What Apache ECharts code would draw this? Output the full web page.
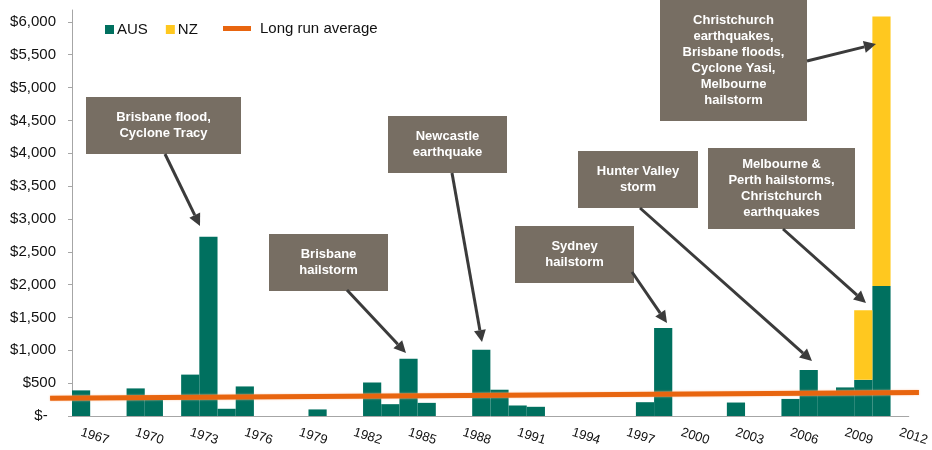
<!DOCTYPE html>
<html>
<head>
<meta charset="utf-8">
<script src="https://cdn.jsdelivr.net/npm/echarts@6/dist/echarts.min.js"></script>
<style>
  html, body { margin: 0; padding: 0; background: #fff; }
  #chart { width: 932px; height: 450px; }
</style>
</head>
<body>
<div id="chart"></div>
<script>
const years = []
for (let y = 1967; y <= 2012; y++) years.push(String(y))

// insured losses by year
const aus = [390, 0, 0, 420, 250, 0, 630, 2730, 110, 450,
  0, 0, 0, 100, 0, 0, 510, 180, 870, 200,
  0, 0, 1010, 400, 160, 140, 0, 0, 0, 0,
  0, 210, 1340, 0, 0, 0, 205, 0, 0, 260,
  700, 330, 435, 550, 1980, 0]
const nz = [0, 0, 0, 0, 0, 0, 0, 0, 0, 0,
  0, 0, 0, 0, 0, 0, 0, 0, 0, 0,
  0, 0, 0, 0, 0, 0, 0, 0, 0, 0,
  0, 0, 0, 0, 0, 0, 0, 0, 0, 0,
  0, 0, 0, 1060, 4100, 0]

// long run average trend, ends in year units
const avgYears = [1965.8, 2013.38]
const avgValues = [270, 356]

const yTicks = []
for (let v = 0; v <= 6000; v += 500) yTicks.push(v)

const FONT = '"Liberation Sans", Arial, sans-serif'
const AXIS_GREY = '#a6a6a6'
const GRID = { left: 72, right: 20, top: 10, bottom: 34 }
const Y_MAX = 6180

// trend line sits in its own grid so it can run past the plot edges
const pxPerYear = (932 - GRID.left - GRID.right) / years.length
const avgGrid = {
  left: GRID.left + (avgYears[0] - 1967) * pxPerYear,
  right: 932 - (GRID.left + (avgYears[1] - 1967) * pxPerYear),
  top: GRID.top, bottom: GRID.bottom
}

// callout boxes: [x, y, w, h], arrow [x1, y1, x2, y2]
const notes = [
  { text: 'Brisbane flood,\nCyclone Tracy', box: [86, 97, 155, 57], arrow: [165, 154, 200, 226] },
  { text: 'Brisbane\nhailstorm', box: [269, 234, 119, 57], arrow: [347, 290, 406, 353] },
  { text: 'Newcastle\nearthquake', box: [388, 116, 119, 57], arrow: [452, 173, 482, 342] },
  { text: 'Sydney\nhailstorm', box: [515, 226, 119, 57], arrow: [632, 272, 667, 323] },
  { text: 'Hunter Valley\nstorm', box: [578, 151, 120, 57], arrow: [640, 208, 812, 361] },
  { text: 'Melbourne &\nPerth hailstorms,\nChristchurch\nearthquakes', box: [708, 148, 147, 81], arrow: [783, 229, 866, 303] },
  { text: 'Christchurch\nearthquakes,\nBrisbane floods,\nCyclone Yasi,\nMelbourne\nhailstorm', box: [660, 0, 147, 121], arrow: [807, 61, 876, 44] }
]

function arrow(x1, y1, x2, y2) {
  const ang = Math.atan2(y2 - y1, x2 - x1)
  const len = 12, half = 6
  const bx = x2 - len * Math.cos(ang), by = y2 - len * Math.sin(ang)
  const px = -Math.sin(ang) * half, py = Math.cos(ang) * half
  return [
    { type: 'line', z: 100, shape: { x1, y1, x2: bx, y2: by }, style: { stroke: '#3b3b3b', lineWidth: 3 } },
    { type: 'polygon', z: 100, shape: { points: [[x2, y2], [bx + px, by + py], [bx - px, by - py]] }, style: { fill: '#3b3b3b' } }
  ]
}

const graphics = []
notes.forEach(n => {
  const [x, y, w, h] = n.box
  graphics.push({ type: 'rect', z: 100, shape: { x, y, width: w, height: h }, style: { fill: '#776e63' } })
  graphics.push({
    type: 'text', z: 101,
    style: {
      text: n.text, x: x + w / 2, y: y + h / 2,
      align: 'center', verticalAlign: 'middle',
      font: 'bold 13px ' + FONT, lineHeight: 16, fill: '#fff'
    }
  })
  graphics.push(...arrow(...n.arrow))
})

const chart = echarts.init(document.getElementById('chart'), null, { renderer: 'canvas' })

const option = {
  animation: false,
  textStyle: { fontFamily: FONT },
  grid: [GRID, avgGrid],
  legend: [
    {
      data: ['AUS', 'NZ'],
      left: 100, top: 17,
      itemWidth: 9, itemHeight: 9, itemGap: 18,
      icon: 'rect', selectedMode: false,
      textStyle: { fontSize: 15, color: '#111', padding: [0, 0, 0, -2] }
    },
    {
      data: ['Long run average'],
      left: 218, top: 16,
      itemWidth: 28, itemHeight: 5,
      icon: 'rect', selectedMode: false,
      textStyle: { fontSize: 15, color: '#111', padding: [0, 0, 0, 4] }
    }
  ],
  xAxis: [
    {
      type: 'category',
      data: years,
      axisLine: { lineStyle: { color: AXIS_GREY } },
      axisTick: { interval: 2, length: 4, lineStyle: { color: AXIS_GREY } },
      axisLabel: { interval: 2, rotate: -18, margin: 16, fontSize: 13, color: '#111' }
    },
    { type: 'value', gridIndex: 1, min: avgYears[0], max: avgYears[1], show: false }
  ],
  yAxis: [
    {
      type: 'value',
      min: 0, max: Y_MAX,
      axisLine: { show: true, lineStyle: { color: AXIS_GREY } },
      axisTick: { show: true, length: 4, customValues: yTicks, lineStyle: { color: AXIS_GREY } },
      splitLine: { show: false },
      axisLabel: {
        margin: 16, fontSize: 15, color: '#111', customValues: yTicks,
        formatter: v => v === 0 ? '$-  ' : '$' + v.toLocaleString('en-US')
      }
    },
    { type: 'value', gridIndex: 1, min: 0, max: Y_MAX, show: false }
  ],
  series: [
    {
      name: 'AUS', type: 'bar', stack: 'total', data: aus,
      barCategoryGap: '0%', itemStyle: { color: '#00705f' }
    },
    {
      name: 'NZ', type: 'bar', stack: 'total', data: nz,
      barCategoryGap: '0%', itemStyle: { color: '#ffc81f' }
    },
    {
      name: 'Long run average', type: 'line', xAxisIndex: 1, yAxisIndex: 1,
      data: avgYears.map((y, i) => [y, avgValues[i]]),
      symbol: 'none', z: 5,
      itemStyle: { color: '#e8650f' },
      lineStyle: { color: '#e8650f', width: 5, shadowColor: 'rgba(255,190,150,0.9)', shadowBlur: 2 }
    }
  ],
  graphic: graphics
}

chart.setOption(option)
</script>
</body>
</html>
